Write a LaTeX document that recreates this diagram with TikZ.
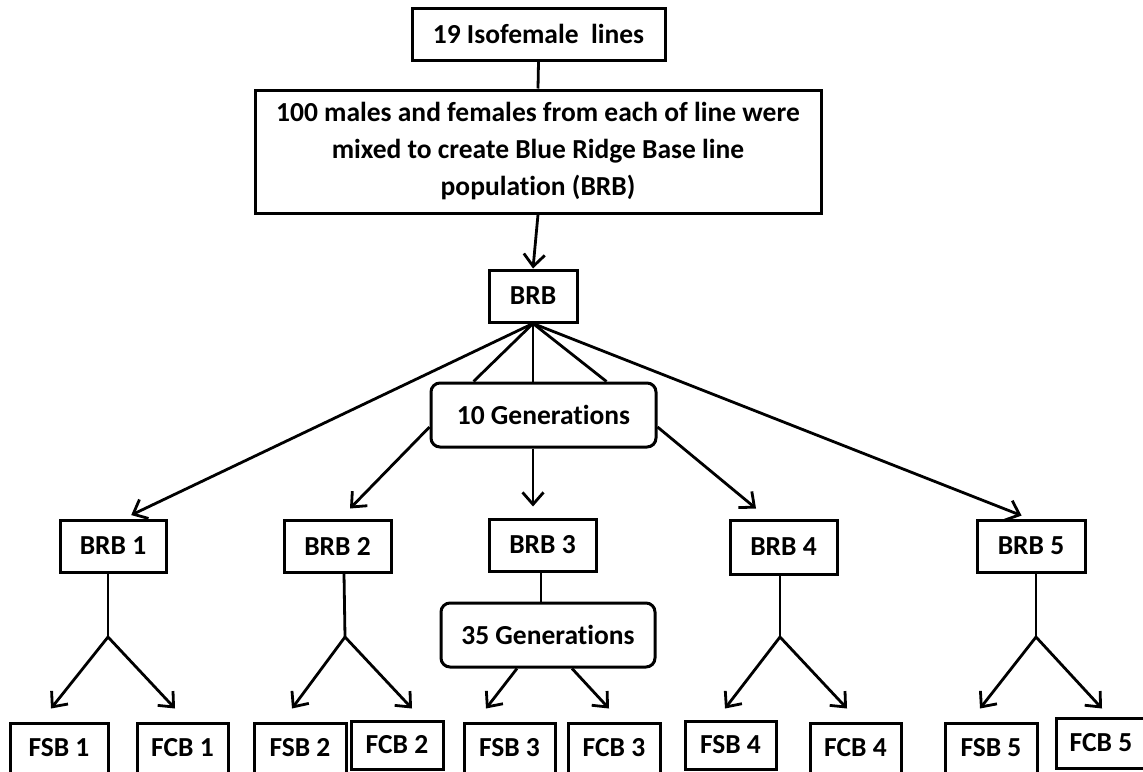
\documentclass[tikz,border=0pt]{standalone}
\usepackage{fontspec}
\setmainfont{Carlito}[Ligatures=NoCommon]
\usepackage{xcolor}
\usepackage{tikz}
\usetikzlibrary{arrows.meta}
\definecolor{figline}{RGB}{0,0,0}
\newcommand{\flowfont}{\fontsize{27.5}{37}\selectfont\bfseries}
\tikzset{
  box/.style  ={draw=figline, line width=3pt, font=\flowfont, inner sep=0pt, align=center},
  gbox/.style ={box, rounded corners=9pt},
  link/.style ={draw=figline, line width=2.8pt},
  ptr/.style  ={link, -{Straight Barb[length=12pt,width=21pt]}},
}
\begin{document}
\begin{tikzpicture}[x=1pt,y=-1pt]
  \useasboundingbox (0,0) rectangle (1143,771);
  % top of the scheme
  \node[box,minimum width=253pt,minimum height=52pt] (iso) at (538.5,34) {19 Isofemale~ lines};
  \node[box,minimum width=566pt,minimum height=123pt] (mix) at (538,151.5)
    {100 males and females from each of line were\\mixed to create Blue Ridge Base line\\population (BRB)};
  \node[box,minimum width=88pt,minimum height=52pt] (brb) at (533,296) {BRB};
  \node[gbox,minimum width=225pt,minimum height=64pt] (gen10) at (543.5,415) {10 Generations};
  % replicate lines
  \node[box,minimum width=106pt,minimum height=52pt] (brb1) at (113,546) {BRB 1};
  \node[box,minimum width=107pt,minimum height=52pt] (brb2) at (337.5,546) {BRB 2};
  \node[box,minimum width=107pt,minimum height=52pt] (brb3) at (542.5,545) {BRB 3};
  \node[box,minimum width=107pt,minimum height=54pt] (brb4) at (783.5,547) {BRB 4};
  \node[box,minimum width=108pt,minimum height=52pt] (brb5) at (1031,546) {BRB 5};
  \node[gbox,minimum width=214pt,minimum height=64pt] (gen35) at (548,635) {35 Generations};
  % bottom row
  \node[box,minimum width=98pt,minimum height=50pt] (fsb1) at (59,748) {FSB 1};
  \node[box,minimum width=91pt,minimum height=50pt] (fcb1) at (182.5,748) {FCB 1};
  \node[box,minimum width=92pt,minimum height=50pt] (fsb2) at (300,748) {FSB 2};
  \node[box,minimum width=92pt,minimum height=48pt] (fcb2) at (397,745) {FCB 2};
  \node[box,minimum width=91pt,minimum height=50pt] (fsb3) at (509.5,748) {FSB 3};
  \node[box,minimum width=92pt,minimum height=50pt] (fcb3) at (614,748) {FCB 3};
  \node[box,minimum width=91pt,minimum height=48pt] (fsb4) at (730.5,745) {FSB 4};
  \node[box,minimum width=91pt,minimum height=50pt] (fcb4) at (855.5,748) {FCB 4};
  \node[box,minimum width=92pt,minimum height=50pt] (fsb5) at (991,748) {FSB 5};
  \node[box,minimum width=90pt,minimum height=50pt] (fcb5) at (1101,743) {FCB 5};
  % split points
  \coordinate (s1) at (108,637);
  \coordinate (s2) at (345,637);
  \coordinate (s4) at (780,637);
  \coordinate (s5) at (1036,637);
  % connectors
  \draw[link] (iso.south) -- (mix.north);
  \draw[ptr] (mix.south) -- (brb.north);
  \draw[ptr,shorten >=8pt] (brb.south) -- ([xshift=11pt]brb1.north);
  \draw[ptr,shorten >=8pt] (brb.south) -- ([xshift=-2pt]brb5.north);
  \draw[link] (brb.south) -- ([xshift=-70pt]gen10.north);
  \draw[link] (brb.south) -- ([xshift=-10.5pt]gen10.north);
  \draw[link] (brb.south) -- ([xshift=63pt]gen10.north);
  \draw[ptr] ([yshift=-12pt]gen10.west) -- ([xshift=12.5pt,yshift=10pt]brb2.north);
  \draw[ptr] ([xshift=-10.5pt]gen10.south) -- ([xshift=-9.5pt,yshift=11pt]brb3.north);
  \draw[ptr] ([yshift=-12pt]gen10.east) -- ([xshift=-27.5pt,yshift=10pt]brb4.north);
  \draw[link] ([xshift=-5pt]brb1.south) -- (s1);
  \draw[ptr] (s1) -- ([xshift=-8pt,yshift=13pt]fsb1.north);
  \draw[ptr] (s1) -- ([xshift=-7.5pt,yshift=13pt]fcb1.north);
  \draw[link] ([xshift=6.5pt]brb2.south) -- (s2);
  \draw[ptr] (s2) -- ([xshift=-8pt,yshift=13pt]fsb2.north);
  \draw[ptr] (s2) -- ([xshift=15pt,yshift=11pt]fcb2.north);
  \draw[link] ([xshift=-1.5pt]brb3.south) -- ([xshift=-7pt]gen35.north);
  \draw[ptr] ([xshift=-31pt]gen35.south) -- ([xshift=-23.5pt,yshift=13pt]fsb3.north);
  \draw[ptr] ([xshift=24pt]gen35.south) -- ([xshift=-5pt,yshift=13pt]fcb3.north);
  \draw[link] ([xshift=-3.5pt]brb4.south) -- (s4);
  \draw[ptr] (s4) -- ([xshift=-5.5pt,yshift=11pt]fsb4.north);
  \draw[ptr] (s4) -- ([xshift=-8.5pt,yshift=13pt]fcb4.north);
  \draw[link] ([xshift=5pt]brb5.south) -- (s5);
  \draw[ptr] (s5) -- ([xshift=-11pt,yshift=13pt]fsb5.north);
  \draw[ptr] (s5) -- ([xshift=1pt,yshift=8pt]fcb5.north);
\end{tikzpicture}
\end{document}
